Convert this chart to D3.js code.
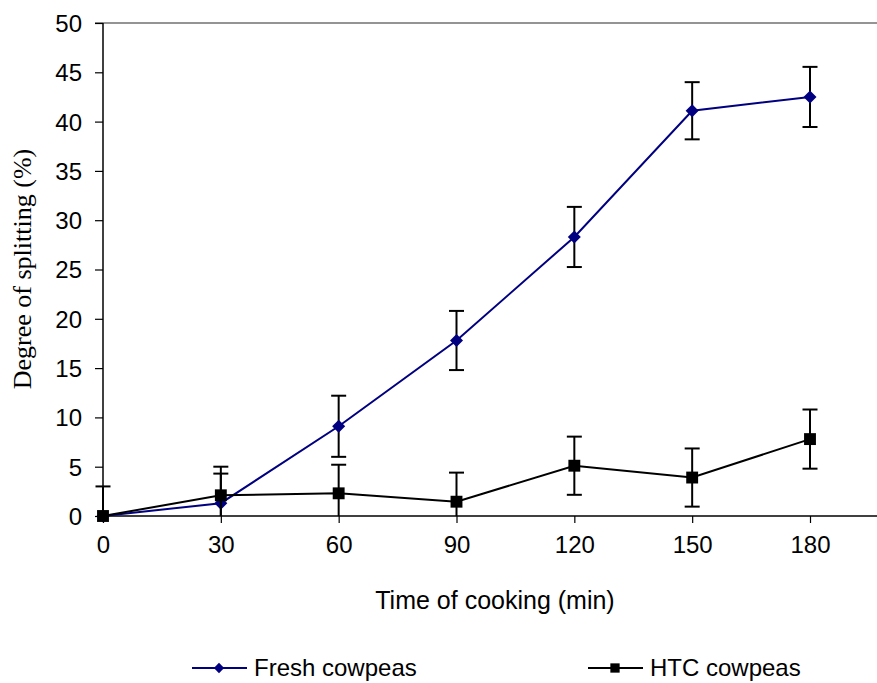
<!DOCTYPE html>
<html>
<head>
<meta charset="utf-8">
<script src="https://cdn.jsdelivr.net/npm/d3@7"></script>
<style>
  html, body { margin: 0; padding: 0; background: #fff; }
  svg { display: block; }
  text { font-family: "Liberation Sans", Arial, sans-serif; fill: #000; }
</style>
</head>
<body>
<svg id="chart" width="877" height="683"></svg>
<script>
// Cooking time (min) and degree of splitting (%) with error amounts
const times = [0, 30, 60, 90, 120, 150, 180];
const freshValues = [0, 1.3, 9.1, 17.8, 28.3, 41.1, 42.5];
const freshErrors = [0, 3.0, 3.1, 3.0, 3.05, 2.9, 3.05];
const htcValues = [0, 2.1, 2.3, 1.45, 5.1, 3.9, 7.8];
const htcErrors = [3.0, 2.9, 2.9, 2.95, 2.95, 2.95, 3.0];
const yTicks = [0, 5, 10, 15, 20, 25, 30, 35, 40, 45, 50];
const seriesNames = ["Fresh cowpeas", "HTC cowpeas"];
const xTitle = "Time of cooking (min)";
const yTitle = "Degree of splitting (%)";

const svg = d3.select("#chart");
const plotLeft = 103, plotRight = 877, plotTop = 23, plotBottom = 516;

const x = d3.scaleLinear().domain([0, 180]).range([plotLeft, 810]);
const y = d3.scaleLinear().domain([0, 50]).range([plotBottom, plotTop]);

svg.append("defs").append("clipPath").attr("id", "plotClip")
  .append("rect").attr("x", plotLeft - 20).attr("y", plotTop)
  .attr("width", plotRight - plotLeft + 20).attr("height", plotBottom - plotTop);

// top frame line
svg.append("line").attr("x1", 95).attr("x2", plotRight).attr("y1", plotTop).attr("y2", plotTop)
  .attr("stroke", "#707070").attr("stroke-width", 1.5);

// y axis
const yAxis = svg.append("g").attr("transform", `translate(${plotLeft},0)`)
  .call(d3.axisLeft(y).tickValues(yTicks).tickSize(8).tickPadding(13).tickFormat(d3.format("d")));
yAxis.select(".domain").remove();
yAxis.selectAll(".tick line").attr("stroke", "#000").attr("stroke-width", 1.2);
yAxis.selectAll(".tick text").style("font-size", "24px").attr("dy", "0.35em");
svg.append("line").attr("x1", plotLeft).attr("x2", plotLeft).attr("y1", plotTop).attr("y2", plotBottom)
  .attr("stroke", "#000").attr("stroke-width", 1.5);

// x axis
const xAxis = svg.append("g").attr("transform", `translate(0,${plotBottom})`)
  .call(d3.axisBottom(x).tickValues(times).tickSize(7).tickPadding(22).tickFormat(d3.format("d")));
xAxis.select(".domain").remove();
xAxis.selectAll(".tick line").attr("stroke", "#000").attr("stroke-width", 1.2);
xAxis.selectAll(".tick text").style("font-size", "24px").attr("dy", "0.35em");
svg.append("line").attr("x1", plotLeft).attr("x2", plotRight).attr("y1", plotBottom).attr("y2", plotBottom)
  .attr("stroke", "#000").attr("stroke-width", 1.5);

// axis titles
svg.append("text").attr("x", 495).attr("y", 609).attr("text-anchor", "middle")
  .style("font-size", "25px").text(xTitle);
svg.append("text").attr("transform", "translate(31,269) rotate(-90)").attr("text-anchor", "middle")
  .style("font-family", "'Liberation Serif', 'Times New Roman', serif").style("font-size", "26px").text(yTitle);

const diamond = d3.symbol().type(d3.symbolDiamond2);
const square = d3.symbol().type(d3.symbolSquare2);

function drawSeries(values, errors, color, shapeGen, markerSize, markerFill) {
  const g = svg.append("g");
  const pts = times.map((t, i) => ({ t, v: values[i], e: errors[i] }));
  // error bars
  const eb = g.append("g").attr("clip-path", "url(#plotClip)").selectAll("g")
    .data(pts.filter(p => p.e > 0)).join("g");
  eb.append("line").attr("x1", d => x(d.t)).attr("x2", d => x(d.t))
    .attr("y1", d => y(d.v - d.e)).attr("y2", d => y(d.v + d.e))
    .attr("stroke", "#000").attr("stroke-width", 2);
  eb.append("line").attr("x1", d => x(d.t) - 7.5).attr("x2", d => x(d.t) + 7.5)
    .attr("y1", d => y(d.v + d.e)).attr("y2", d => y(d.v + d.e))
    .attr("stroke", "#000").attr("stroke-width", 2);
  eb.append("line").attr("x1", d => x(d.t) - 7.5).attr("x2", d => x(d.t) + 7.5)
    .attr("y1", d => y(d.v - d.e)).attr("y2", d => y(d.v - d.e))
    .attr("stroke", "#000").attr("stroke-width", 2);
  // line
  g.append("path").datum(pts)
    .attr("d", d3.line().x(d => x(d.t)).y(d => y(d.v)))
    .attr("fill", "none").attr("stroke", color).attr("stroke-width", 2);
  // markers
  g.selectAll("path.m").data(pts).join("path").attr("class", "m")
    .attr("d", shapeGen.size(markerSize)())
    .attr("transform", d => `translate(${x(d.t)},${y(d.v)})`)
    .attr("fill", markerFill);
}

drawSeries(freshValues, freshErrors, "#000080", diamond, 108, "#000080");
drawSeries(htcValues, htcErrors, "#000", square, 180, "#000");

// legend
const legend = [
  { name: seriesNames[0], color: "#000080", shape: d3.symbol().type(d3.symbolDiamond2).size(68), x0: 192 },
  { name: seriesNames[1], color: "#000", shape: d3.symbol().type(d3.symbolSquare2).size(110), x0: 588 }
];
const lg = svg.append("g").selectAll("g").data(legend).join("g")
  .attr("transform", d => `translate(${d.x0},668)`);
lg.append("line").attr("x1", 0).attr("x2", 55).attr("y1", 0).attr("y2", 0)
  .attr("stroke", d => d.color).attr("stroke-width", 2);
lg.append("path").attr("d", d => d.shape()).attr("transform", "translate(27,0)")
  .attr("fill", d => d.color);
lg.append("text").attr("x", 62).attr("y", 0).attr("dy", "0.35em")
  .style("font-size", "24px").text(d => d.name);
</script>
</body>
</html>
